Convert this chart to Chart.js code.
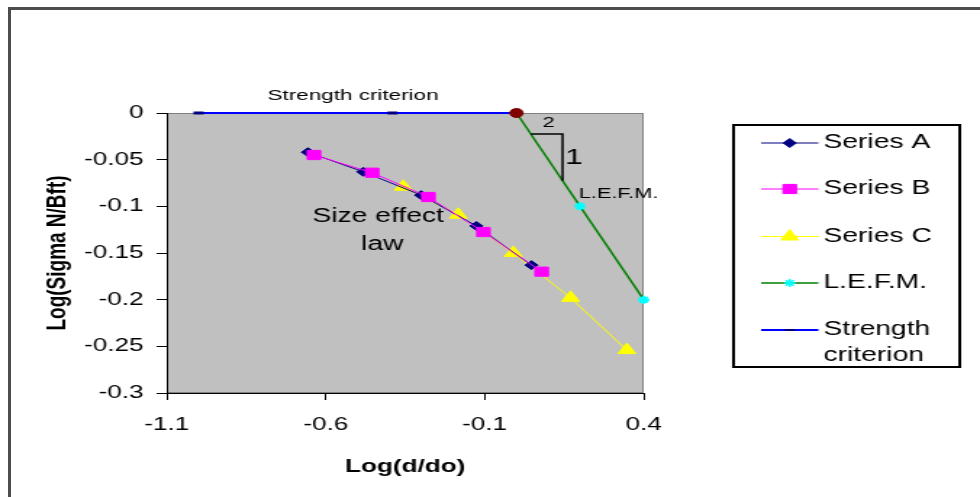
<!DOCTYPE html>
<html lang="en">
<head>
  <meta charset="UTF-8">
  <title>Size effect law</title>
  <script src="https://cdn.jsdelivr.net/npm/chart.js"></script>
  <style>
    html, body {
      margin: 0;
      padding: 0;
      background: #fff;
      overflow: hidden;
    }
    #frame {
      position: absolute;
      left: 8px;
      top: 7px;
      width: 990px;
      height: 500px;
      border-left: 3px solid #4d4d4d;
      border-top: 3px solid #4d4d4d;
    }
    /* the original picture is stretched sideways, so the chart is too */
    #stretch {
      position: absolute;
      left: 0;
      top: 0;
      width: 676px;
      height: 497px;
      transform: scaleX(1.4497);
      transform-origin: 0 0;
    }
  </style>
</head>
<body>
  <div id="frame"></div>
  <div id="stretch"><canvas id="chart" width="676" height="497"></canvas></div>

  <script>
    // values
    const seriesAx = [-0.656, -0.482, -0.300, -0.126, 0.047];
    const seriesAy = [-0.042, -0.063, -0.088, -0.121, -0.163];
    const seriesBx = [-0.637, -0.454, -0.277, -0.104, 0.079];
    const seriesBy = [-0.045, -0.064, -0.090, -0.1275, -0.170];
    const seriesCx = [-0.356, -0.183, -0.010, 0.170, 0.347];
    const seriesCy = [-0.079, -0.109, -0.150, -0.198, -0.254];
    const lefmX = [0, 0.2, 0.4];
    const lefmY = [0, -0.1, -0.2];
    const strengthX = [-1.0, -0.39, 0];
    const strengthY = [0, 0, 0];
    const crossX = [0];
    const crossY = [0];

    const xTicks = [-1.1, -0.6, -0.1, 0.4];
    const xTickLabels = ['-1.1', '-0.6', '-0.1', '0.4'];
    const yTicks = [0, -0.05, -0.1, -0.15, -0.2, -0.25, -0.3];
    const yTickLabels = ['0', '-0.05', '-0.1', '-0.15', '-0.2', '-0.25', '-0.3'];

    const legendOrder = ['Series A', 'Series B', 'Series C', 'L.E.F.M.', 'Strength criterion'];

    const FONT = '"Liberation Sans", Arial, sans-serif';

    function pts(xs, ys) {
      return xs.map((x, i) => ({ x: x, y: ys[i] }));
    }

    // grey plot area with its frame
    const plotBackground = {
      id: 'plotBackground',
      beforeDraw(chart) {
        const { ctx, chartArea: a } = chart;
        ctx.save();
        ctx.fillStyle = '#c0c0c0';
        ctx.fillRect(a.left, a.top, a.right - a.left, a.bottom - a.top);
        ctx.strokeStyle = '#808080';
        ctx.lineWidth = 1;
        ctx.strokeRect(a.left + 0.5, a.top + 0.5, a.right - a.left - 1, a.bottom - a.top - 1);
        ctx.restore();
      }
    };

    // text notes and the 1:2 slope triangle, placed in data units
    const notes = [
      { text: 'Strength criterion', x: -0.514, y: 0.019, size: 15.5 },
      { text: 'Size effect', x: -0.435, y: -0.1115, size: 19.5 },
      { text: 'law', x: -0.422, y: -0.1415, size: 19.5 },
      { text: 'L.E.F.M.', x: 0.321, y: -0.0863, size: 15 },
      { text: '2', x: 0.101, y: -0.0107, size: 15 },
      { text: '1', x: 0.18, y: -0.0477, size: 22 }
    ];
    const slopeX = [0.045, 0.145, 0.145];
    const slopeY = [-0.0225, -0.0225, -0.0725];

    const annotations = {
      id: 'annotations',
      afterDatasetsDraw(chart) {
        const { ctx, scales: { x, y } } = chart;
        ctx.save();
        ctx.strokeStyle = '#000';
        ctx.lineWidth = 1.5;
        ctx.beginPath();
        slopeX.forEach((v, i) => {
          const px = x.getPixelForValue(v), py = y.getPixelForValue(slopeY[i]);
          if (i === 0) ctx.moveTo(px, py); else ctx.lineTo(px, py);
        });
        ctx.stroke();

        ctx.fillStyle = '#000';
        ctx.textAlign = 'center';
        ctx.textBaseline = 'middle';
        notes.forEach(n => {
          ctx.font = n.size + 'px ' + FONT;
          ctx.fillText(n.text, x.getPixelForValue(n.x), y.getPixelForValue(n.y));
        });
        ctx.restore();
      }
    };

    // boxed legend on the right
    const boxLegend = {
      id: 'boxLegend',
      afterDraw(chart) {
        const ctx = chart.ctx;
        const box = { left: 506, top: 125, width: 156, height: 242 };
        const rows = [143, 189, 236.5, 283, 330];
        const lineFrom = 525, lineTo = 564.5, textX = 568;
        ctx.save();
        ctx.strokeStyle = '#000';
        ctx.lineWidth = 2;
        ctx.strokeRect(box.left, box.top, box.width, box.height);

        legendOrder.forEach((label, i) => {
          const ds = chart.data.datasets.find(d => d.label === label);
          const yy = rows[i];
          ctx.strokeStyle = ds.borderColor;
          ctx.lineWidth = ds.borderWidth;
          ctx.beginPath();
          ctx.moveTo(lineFrom, yy);
          ctx.lineTo(lineTo, yy);
          ctx.stroke();

          ctx.fillStyle = ds.pointBackgroundColor;
          ctx.strokeStyle = ds.pointBorderColor;
          Chart.helpers.drawPoint(ctx, {
            pointStyle: ds.pointStyle,
            radius: ds.pointRadius,
            rotation: 0,
            borderWidth: ds.pointBorderWidth
          }, (lineFrom + lineTo) / 2, yy);

          ctx.fillStyle = '#000';
          ctx.font = '19.5px ' + FONT;
          ctx.textAlign = 'left';
          ctx.textBaseline = 'middle';
          if (label === 'Strength criterion') {
            ctx.fillText('Strength', textX, yy);
            ctx.fillText('criterion', textX, yy + 26);
          } else {
            ctx.fillText(label, textX, yy);
          }
        });
        ctx.restore();
      }
    };

    function series(label, data, color, style, radius, fill, borderW) {
      return {
        label: label,
        data: data,
        borderColor: color,
        borderWidth: borderW,
        pointStyle: style,
        pointRadius: radius,
        pointBackgroundColor: fill,
        pointBorderColor: fill,
        pointBorderWidth: 1,
        showLine: true,
        tension: 0,
        clip: false
      };
    }

    const dot = series('Crossing', pts(crossX, crossY), '#800000', 'circle', 4.5, '#800000', 1);
    const seriesA = series('Series A', pts(seriesAx, seriesAy), '#000080', 'rectRot', 4.5, '#000080', 1);
    const seriesB = series('Series B', pts(seriesBx, seriesBy), '#ff00ff', 'rect', 6.5, '#ff00ff', 1);
    const seriesC = series('Series C', pts(seriesCx, seriesCy), '#ffff00', 'triangle', 7, '#ffff00', 1);
    const lefm = series('L.E.F.M.', pts(lefmX, lefmY), '#008000', 'star', 4, '#00ffff', 1.5);
    lefm.pointBorderWidth = 2;
    const strength = series('Strength criterion', pts(strengthX, strengthY), '#0000ff', 'line', 3.5, '#000080', 2);
    strength.pointBorderWidth = 3;

    new Chart(document.getElementById('chart'), {
      type: 'scatter',
      data: { datasets: [dot, seriesB, seriesA, seriesC, lefm, strength] },
      options: {
        responsive: false,
        animation: false,
        events: [],
        layout: { padding: { top: 113, right: 232, left: 0, bottom: 0 } },
        plugins: {
          legend: { display: false },
          tooltip: { enabled: false }
        },
        scales: {
          x: {
            type: 'linear',
            min: -1.1,
            max: 0.4,
            afterBuildTicks: s => { s.ticks = xTicks.map(v => ({ value: v })); },
            afterFit: s => { s.height = 104; },
            border: { display: true, color: '#000', width: 1 },
            grid: { drawOnChartArea: false, tickLength: 7, color: '#000' },
            ticks: {
              color: '#000',
              font: { family: FONT, size: 18 },
              padding: 14,
              maxRotation: 0,
              callback: (v, i) => xTickLabels[i]
            },
            title: {
              display: true,
              text: 'Log(d/do)',
              color: '#000',
              font: { family: FONT, size: 18, weight: 'bold' },
              padding: { top: 0, bottom: 19 }
            }
          },
          y: {
            type: 'linear',
            min: -0.3,
            max: 0,
            afterBuildTicks: s => { s.ticks = yTicks.map(v => ({ value: v })); },
            afterFit: s => { s.width = 115; },
            border: { display: true, color: '#000', width: 1 },
            grid: { drawOnChartArea: false, tickLength: 7, color: '#000' },
            ticks: {
              color: '#000',
              font: { family: FONT, size: 18 },
              padding: 9,
              callback: (v, i) => yTickLabels[i]
            },
            title: {
              display: true,
              text: 'Log(Sigma N/Bft)',
              color: '#000',
              font: { family: FONT, size: 19, weight: 'bold' },
              padding: { top: 28, bottom: 0 }
            }
          }
        }
      },
      plugins: [plotBackground, annotations, boxLegend]
    });
  </script>
</body>
</html>
